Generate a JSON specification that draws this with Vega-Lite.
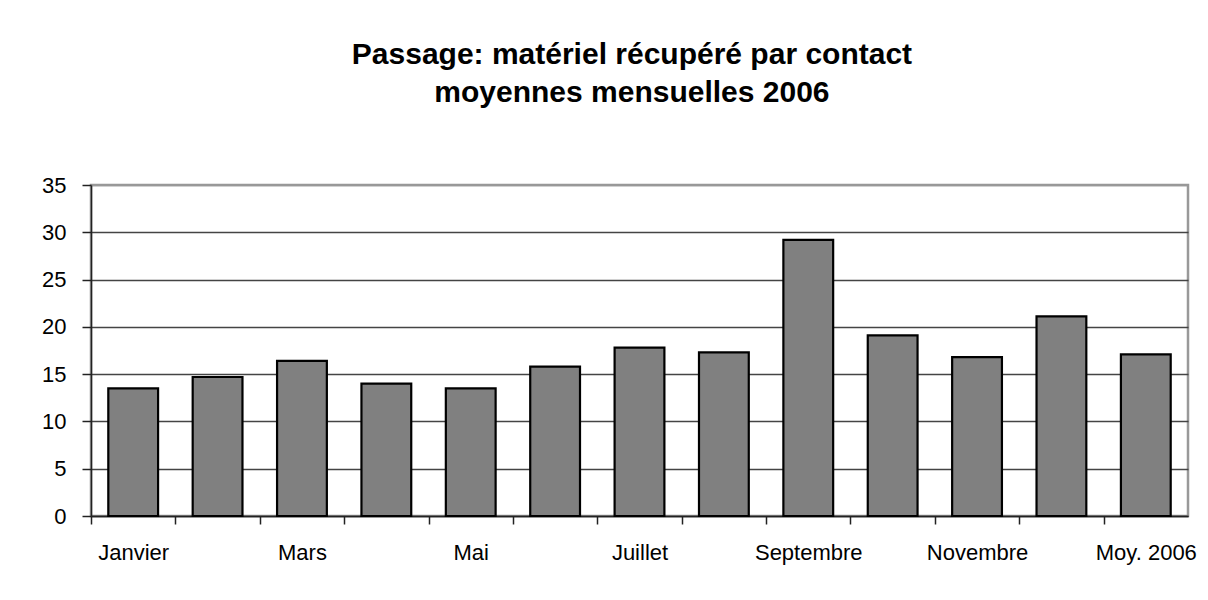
{
  "$schema": "https://vega.github.io/schema/vega-lite/v6.json",
  "width": 1097,
  "height": 331,
  "autosize": {"type": "none"},
  "padding": {"left": 91, "top": 185, "right": 20, "bottom": 84},
  "background": "white",
  "title": {
    "text": ["Passage: matériel récupéré par contact", "moyennes mensuelles 2006"],
    "font": "Liberation Sans",
    "fontSize": 30,
    "fontWeight": "bold",
    "color": "black",
    "lineHeight": 38,
    "anchor": "middle",
    "frame": "bounds",
    "dx": 13,
    "offset": 66
  },
  "data": {
    "values": [
      {"mois": "Janvier", "valeur": 13.5},
      {"mois": "Février", "valeur": 14.7},
      {"mois": "Mars", "valeur": 16.4},
      {"mois": "Avril", "valeur": 14.0},
      {"mois": "Mai", "valeur": 13.5},
      {"mois": "Juin", "valeur": 15.8},
      {"mois": "Juillet", "valeur": 17.8},
      {"mois": "Août", "valeur": 17.3},
      {"mois": "Septembre", "valeur": 29.2},
      {"mois": "Octobre", "valeur": 19.1},
      {"mois": "Novembre", "valeur": 16.8},
      {"mois": "Décembre", "valeur": 21.1},
      {"mois": "Moy. 2006", "valeur": 17.1}
    ]
  },
  "mark": {"type": "bar", "color": "#808080", "stroke": "black", "strokeWidth": 2.2},
  "encoding": {
    "x": {
      "field": "mois",
      "type": "nominal",
      "sort": null,
      "scale": {"paddingInner": 0.41, "paddingOuter": 0.205},
      "axis": {
        "title": null,
        "labelAngle": 0,
        "tickOffset": -42.2,
        "labelOffset": 42.2,
        "tickSize": 8,
        "tickColor": "#222",
        "tickWidth": 1.5,
        "domainColor": "#222",
        "domainWidth": 1.5,
        "labelFont": "Liberation Sans",
        "labelFontSize": 22,
        "labelColor": "black",
        "labelPadding": 18,
        "labelOverlap": false,
        "labelExpr": "indexof(['Janvier','Mars','Mai','Juillet','Septembre','Novembre','Moy. 2006'], datum.value) >= 0 ? datum.label : ''",
        "grid": false
      }
    },
    "y": {
      "field": "valeur",
      "type": "quantitative",
      "scale": {"domain": [0, 35], "nice": false},
      "axis": {
        "title": null,
        "values": [0, 5, 10, 15, 20, 25, 30, 35],
        "tickSize": 9,
        "tickColor": "#222",
        "tickWidth": 1.5,
        "domainColor": "#222",
        "domainWidth": 1.5,
        "labelFont": "Liberation Sans",
        "labelFontSize": 22,
        "labelColor": "black",
        "labelPadding": 16,
        "grid": true,
        "gridColor": {"condition": {"test": "datum.value == 35", "value": "#999999"}, "value": "#444444"},
        "gridWidth": 1.5
      }
    }
  },
  "config": {
    "view": {"stroke": "#999999", "strokeWidth": 2.5}
  }
}
